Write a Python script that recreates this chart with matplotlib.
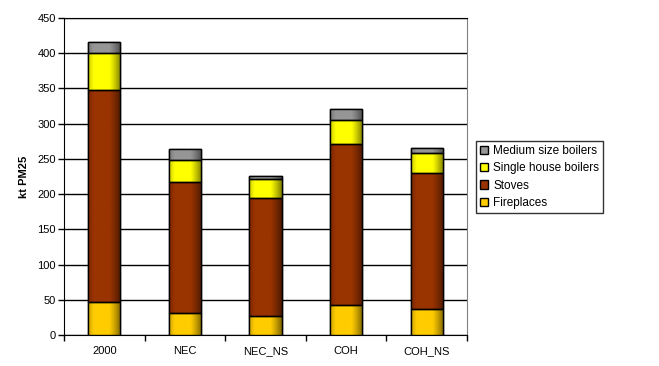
import matplotlib
matplotlib.use("Agg")
import matplotlib.pyplot as plt
from matplotlib.colors import to_rgb
import numpy as np

categories = ["2000", "NEC", "NEC_NS", "COH", "COH_NS"]
fireplaces = [47, 31, 27, 42, 37]
stoves = [301, 186, 168, 229, 193]
single_house = [53, 32, 26, 34, 29]
medium_boilers = [15, 15, 5, 16, 6]
series_names = ["Fireplaces", "Stoves", "Single house boilers", "Medium size boilers"]
yticks = list(range(0, 451, 50))

plt.rcParams['font.family'] = ['Liberation Sans', 'DejaVu Sans']

W, H = 659, 366
fig = plt.figure(figsize=(W / 100, H / 100), dpi=100)
ax = fig.add_axes([64 / W, (H - 335) / H, (467 - 64) / W, (335 - 18) / H])

x = np.arange(len(categories))
series = [fireplaces, stoves, single_house, medium_boilers]
colors = ["#FFCC00", "#993300", "#FFFF00", "#969696"]
bottom = np.zeros(len(categories))
handles = []
t = np.linspace(0, 1, 64)
shade = 0.5 + 0.5 * np.clip(np.sin(np.pi * (0.15 + 0.85 * t)) * 1.25, 0, 1)
for vals, c, name in zip(series, colors, series_names):
    b = ax.bar(x, vals, 0.4, bottom=bottom, color=c, edgecolor="black", linewidth=1.0, label=name, zorder=3)
    handles.append(b)
    rgb = np.array(to_rgb(c))
    grad = (shade[:, None] * rgb[None, :])[None, :, :]
    for p in b.patches:
        x0, y0 = p.get_x(), p.get_y()
        w, h = p.get_width(), p.get_height()
        im = ax.imshow(grad, extent=(x0, x0 + w, y0, y0 + h), aspect="auto",
                       origin="lower", zorder=3.5, interpolation="bilinear")
        im.set_clip_path(p)
        ax.bar(x0 + w / 2, h, w, bottom=y0, facecolor="none", edgecolor="black", linewidth=1.0, zorder=4)
    bottom += np.array(vals)

ax.set_xlim(-0.5, len(categories) - 0.5)
ax.set_ylim(0, 450)
ax.set_yticks(yticks)
ax.set_yticklabels([str(t) for t in yticks], fontsize=8)
ax.set_xticks(x)
ax.set_xticklabels(categories, fontsize=8)
ax.set_xticks(np.arange(-0.5, len(categories), 1), minor=True)
ax.tick_params(axis="x", which="major", length=0, pad=8)
ax.tick_params(axis="x", which="minor", length=4, direction="out", width=1)
ax.tick_params(axis="y", length=4, direction="out", width=1, pad=2)
ax.yaxis.grid(True, color="black", linewidth=1.0, zorder=0)
ax.set_axisbelow(True)
ax.spines["right"].set_color("#808080")
ax.spines["top"].set_color("black")
ax.set_ylabel("kt PM25", fontsize=8, fontweight="bold", labelpad=6)

leg = fig.legend(handles[::-1], series_names[::-1], loc="upper left",
                 bbox_to_anchor=(476 / W, (H - 141) / H), fontsize=8.5,
                 frameon=True, fancybox=False, edgecolor="black",
                 handlelength=0.7, handleheight=0.7, handletextpad=0.4,
                 borderpad=0.35, labelspacing=0.45, borderaxespad=0)
leg.get_frame().set_linewidth(1.0)

fig.savefig("out.png", dpi=100)
